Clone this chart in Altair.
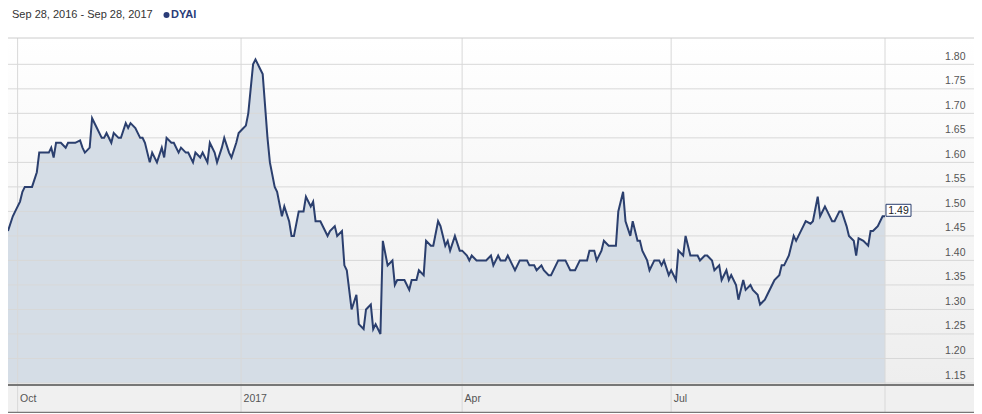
import altair as alt
import pandas as pd

# ---- data (days after Sep 28, 2016 ; closing price) ----
days = [
    0, 2, 3, 5, 6, 7, 10, 12, 13, 17,
    18, 19, 20, 22, 24, 25, 28, 30, 31, 32,
    34, 35, 37, 39, 40, 41, 43, 44, 46, 47,
    49, 50, 51, 53, 55, 56, 57, 59, 60, 62,
    64, 65, 66, 68, 69, 71, 72, 74, 75, 77,
    78, 80, 81, 83, 84, 86, 87, 89, 90, 92,
    93, 95, 96, 98, 99, 100, 102, 103, 105, 106,
    108, 109, 111, 112, 114, 115, 117, 118, 119, 121,
    123, 124, 126, 127, 128, 130, 132, 133, 134, 136,
    137, 139, 140, 141, 143, 145, 146, 148, 149, 151,
    152, 153, 155, 156, 158, 160, 161, 162, 165, 167,
    168, 170, 171, 173, 174, 176, 177, 179, 180, 182,
    183, 184, 186, 188, 189, 191, 192, 193, 195, 199,
    201, 202, 204, 205, 207, 208, 210, 211, 213, 216,
    217, 219, 220, 222, 223, 225, 226, 228, 229, 232,
    234, 236, 238, 241, 242, 244, 245, 247, 248, 250,
    253, 254, 256, 257, 259, 260, 262, 263, 264, 266,
    267, 269, 271, 272, 273, 275, 276, 278, 279, 281,
    282, 284, 287, 288, 290, 291, 293, 294, 296, 297,
    299, 300, 301, 303, 304, 306, 307, 309, 310, 312,
    313, 315, 316, 318, 319, 321, 322, 323, 325, 327,
    328, 329, 331, 332, 334, 335, 337, 338, 340, 341,
    343, 344, 346, 347, 349, 350, 352, 353, 354, 356,
    358, 359, 360, 362, 364, 365,
]
closes = [
    1.46, 1.49, 1.50, 1.52, 1.54, 1.55, 1.55, 1.58, 1.62, 1.62,
    1.63, 1.61, 1.64, 1.64, 1.63, 1.64, 1.64, 1.645, 1.63, 1.62,
    1.63, 1.69, 1.67, 1.65, 1.65, 1.66, 1.64, 1.66, 1.65, 1.65,
    1.68, 1.67, 1.68, 1.67, 1.65, 1.65, 1.64, 1.60, 1.62, 1.60,
    1.63, 1.61, 1.65, 1.64, 1.64, 1.62, 1.63, 1.62, 1.62, 1.60,
    1.62, 1.61, 1.62, 1.60, 1.64, 1.62, 1.60, 1.63, 1.65, 1.62,
    1.61, 1.64, 1.66, 1.67, 1.675, 1.70, 1.80, 1.81, 1.79, 1.78,
    1.65, 1.60, 1.55, 1.54, 1.49, 1.51, 1.48, 1.45, 1.45, 1.50,
    1.50, 1.53, 1.51, 1.52, 1.48, 1.48, 1.46, 1.45, 1.46, 1.47,
    1.45, 1.46, 1.39, 1.38, 1.30, 1.33, 1.27, 1.26, 1.30, 1.31,
    1.26, 1.27, 1.25, 1.44, 1.39, 1.40, 1.35, 1.36, 1.36, 1.34,
    1.36, 1.36, 1.38, 1.37, 1.44, 1.43, 1.43, 1.48, 1.47, 1.43,
    1.44, 1.42, 1.45, 1.42, 1.42, 1.41, 1.40, 1.41, 1.40, 1.40,
    1.41, 1.39, 1.41, 1.40, 1.40, 1.41, 1.39, 1.38, 1.40, 1.40,
    1.39, 1.39, 1.38, 1.39, 1.38, 1.37, 1.37, 1.39, 1.40, 1.40,
    1.38, 1.38, 1.40, 1.40, 1.42, 1.42, 1.40, 1.42, 1.44, 1.43,
    1.43, 1.50, 1.54, 1.48, 1.45, 1.48, 1.44, 1.44, 1.42, 1.40,
    1.38, 1.40, 1.40, 1.39, 1.40, 1.37, 1.38, 1.36, 1.42, 1.41,
    1.45, 1.41, 1.41, 1.40, 1.41, 1.41, 1.40, 1.38, 1.39, 1.36,
    1.38, 1.36, 1.37, 1.35, 1.32, 1.36, 1.34, 1.35, 1.34, 1.33,
    1.31, 1.32, 1.33, 1.35, 1.36, 1.37, 1.39, 1.39, 1.41, 1.45,
    1.44, 1.45, 1.47, 1.48, 1.475, 1.48, 1.53, 1.49, 1.51, 1.50,
    1.48, 1.48, 1.50, 1.50, 1.47, 1.45, 1.44, 1.41, 1.445, 1.44,
    1.43, 1.46, 1.46, 1.47, 1.49, 1.49,
]
assert len(days) == len(closes)

y_ticks = [1.15, 1.20, 1.25, 1.30, 1.35, 1.40, 1.45, 1.50, 1.55, 1.60, 1.65, 1.70, 1.75, 1.80]
x_tick_dates = ["2016-10-02T00:00:00", "2017-01-03T00:00:00", "2017-04-05T00:00:00", "2017-07-01T00:00:00"]
x_edge_dates = ["2017-09-28T00:00:00"]
range_text = "Sep 28, 2016 - Sep 28, 2017"
symbol_text = "DYAI"

start = pd.Timestamp("2016-09-28")
df = pd.DataFrame({
    "date": [(start + pd.Timedelta(days=d)).strftime("%Y-%m-%dT00:00:00") for d in days],
    "close": closes,
})
last = df.tail(1)
ydf = pd.DataFrame({"close": y_ticks})
xdf = pd.DataFrame({"date": x_tick_dates + x_edge_dates})
one = pd.DataFrame({"k": [0]})

W, H = 966, 375      # whole frame (plot + right label strip, + x band)
PW, PH = 877, 345    # data area
FONT = "Liberation Sans"
NAVY = "#2b3f6e"

xscale = alt.Scale(
    domain=[alt.DateTime(year=2016, month=9, date=28), alt.DateTime(year=2017, month=9, date=28)],
    range=[0, PW], nice=False,
)
yscale = alt.Scale(domain=[1.15, 1.8537], range=[PH, 0], zero=False, nice=False)

xaxis = alt.Axis(
    values=[alt.DateTime(year=2016, month=10, date=2), alt.DateTime(year=2017, month=1, date=3),
            alt.DateTime(year=2017, month=4, date=5), alt.DateTime(year=2017, month=7, date=1)],
    labelExpr="timeFormat(datum.value, '%m') == '01' ? timeFormat(datum.value, '%Y') : timeFormat(datum.value, '%b')",
    orient="bottom", offset=-15, grid=False, domain=False, ticks=False, tickSize=0,
    labelPadding=0, labelAlign="left", labelBaseline="middle", labelOffset=2,
    labelFontSize=10.5, labelColor="#555555", labelFont=FONT, labelFlush=False,
    labelOverlap=False, title=None, zindex=2,
)
yaxis = alt.Axis(
    orient="right", offset=-9, values=y_ticks, format=".2f", grid=False, domain=False,
    ticks=False, tickSize=0, labelPadding=0, labelAlign="right", labelBaseline="alphabetic",
    labelOffset=-5, labelFontSize=10.5, labelColor="#555555", labelFont=FONT,
    labelFlush=False, labelOverlap=False, title=None, zindex=2,
)

X = alt.X("date:T", scale=xscale, axis=xaxis)
Y = alt.Y("close:Q", scale=yscale, axis=yaxis)

gradient = alt.LinearGradient(
    gradient="linear",
    stops=[alt.GradientStop(color="#ffffff", offset=0), alt.GradientStop(color="#eeeeee", offset=1)],
    x1=0, x2=0, y1=0, y2=1,
)

bg = alt.Chart(one).mark_rect(fill=gradient).encode(
    x=alt.value(0), x2=alt.value(W), y=alt.value(0), y2=alt.value(PH))
band = alt.Chart(one).mark_rect(fill="#f0f0f0").encode(
    x=alt.value(0), x2=alt.value(W), y=alt.value(PH), y2=alt.value(H))

area = alt.Chart(df).mark_area(color="#d5dde6", opacity=1).encode(
    x=X, y=Y, y2=alt.datum(1.15),
)

hgrid = alt.Chart(ydf).mark_rule(color="#d8d8d8", strokeWidth=1).encode(
    y=Y, x=alt.value(0), x2=alt.value(W))
vgrid = alt.Chart(xdf).mark_rule(color="#d8d8d8", strokeWidth=1).encode(
    x=X, y=alt.value(0), y2=alt.value(H))

top_border = alt.Chart(one).mark_rule(color="#cccccc").encode(
    x=alt.value(0), x2=alt.value(W), y=alt.value(0))
left_border = alt.Chart(one).mark_rule(color="#cccccc").encode(
    x=alt.value(-0.5), y=alt.value(0), y2=alt.value(H))
band_top = alt.Chart(one).mark_rule(color="#777777", strokeWidth=2).encode(
    x=alt.value(0), x2=alt.value(W), y=alt.value(PH + 2))
band_bottom = alt.Chart(one).mark_rule(color="#777777", strokeWidth=1.5).encode(
    x=alt.value(0), x2=alt.value(W), y=alt.value(H - 0.5))

line = alt.Chart(df).mark_line(color=NAVY, strokeWidth=2).encode(x=X, y=Y)

box = alt.Chart(last).mark_point(
    shape="M0.083,-1H2.167V0H0.083Z", size=576, filled=True, fill="white",
    stroke=NAVY, strokeWidth=1, opacity=1,
).encode(x=X, y=Y)
box_text = alt.Chart(last).mark_text(
    dx=13.5, dy=-5.5, align="center", baseline="middle", fontSize=10.5, color="#222222", font=FONT,
).encode(x=X, y=Y, text=alt.Text("close:Q", format=".2f"))

hdr_range = alt.Chart(one).mark_text(
    text=range_text, align="left", baseline="middle", fontSize=11, color="#333333", font=FONT,
).encode(x=alt.value(4), y=alt.value(-23))
hdr_dot = alt.Chart(one).mark_point(filled=True, size=36, color="#2a3c78", shape="circle", opacity=1).encode(
    x=alt.value(158.5), y=alt.value(-23))
hdr_sym = alt.Chart(one).mark_text(
    text=symbol_text, align="left", baseline="middle", fontSize=11, fontWeight="bold",
    color="#2a3c78", font=FONT,
).encode(x=alt.value(163), y=alt.value(-23))

chart = alt.layer(
    bg, band, area, hgrid, vgrid, band_top, band_bottom, top_border, left_border,
    line, box, box_text, hdr_range, hdr_dot, hdr_sym,
).properties(
    width=W, height=H,
    autosize=alt.AutoSizeParams(type="none"),
    padding={"left": 0, "top": 30, "right": 0, "bottom": 0},
).configure_view(stroke=None).configure(background="white")

chart.save("out.html", embed_options={"renderer": "svg", "actions": False})
